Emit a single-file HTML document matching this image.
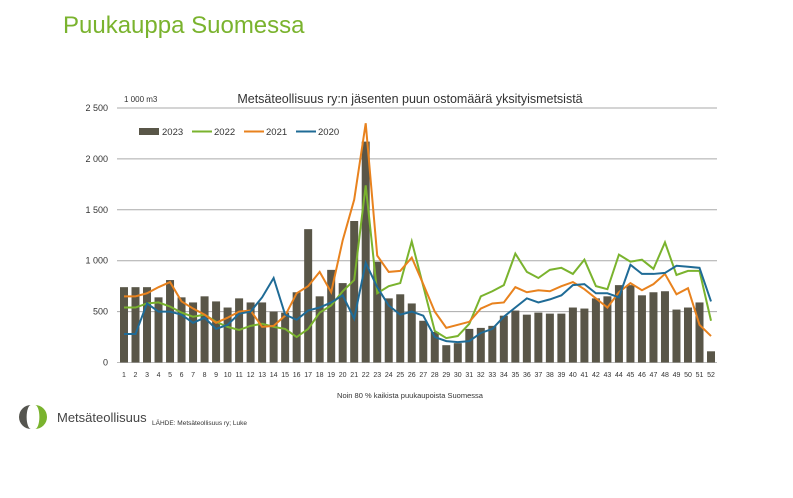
<!DOCTYPE html>
<html><head><meta charset="utf-8"><style>
body{margin:0;background:#fff;width:793px;height:493px;overflow:hidden;font-family:"Liberation Sans",sans-serif}
</style></head><body>
<svg id="s" width="793" height="493" xmlns="http://www.w3.org/2000/svg" font-family="Liberation Sans, sans-serif">
<text x="63" y="33" font-size="24" fill="#7ab32e">Puukauppa Suomessa</text>
<text x="410" y="103" font-size="12.5" fill="#333" text-anchor="middle">Metsäteollisuus ry:n jäsenten puun ostomäärä yksityismetsistä</text>
<text x="124" y="102" font-size="8" fill="#333">1 000 m3</text>
<text x="410" y="398" font-size="7.5" fill="#333" text-anchor="middle">Noin 80 % kaikista puukaupoista Suomessa</text>
<text x="152" y="425" font-size="6.5" fill="#333">LÄHDE:  Metsäteollisuus ry; Luke</text>
<path d="M31 405 A12 12 0 0 0 31 429 A4 11 0 0 1 31 405 Z" fill="#55554f"/>
<path d="M35 405 A12 12 0 0 1 35 429 A4 11 0 0 0 35 405 Z" fill="#7ab32e"/>
<text x="57" y="422" font-size="13" fill="#444">Metsäteollisuus</text>
<g id="g"></g>
</svg>
<script>
var b=[740,740,740,640,810,640,590,650,600,540,630,590,590,500,490,690,1310,650,910,780,1390,2170,990,630,670,580,410,300,170,190,330,340,360,460,510,470,490,480,480,540,530,630,650,760,760,660,690,700,520,540,590,110];
var g2=[540,540,580,590,550,490,450,470,400,350,320,360,380,350,330,250,330,490,560,700,810,1740,680,750,780,1190,750,310,240,260,380,650,700,760,1070,890,830,910,930,870,1010,750,720,1060,990,1010,920,1180,860,900,900,410];
var o=[650,650,680,740,790,600,530,470,390,440,500,510,350,360,460,680,750,890,690,1200,1600,2350,1050,890,900,1030,770,500,340,370,400,530,580,590,740,690,710,700,750,790,720,630,540,690,780,710,770,870,670,730,370,260];
var bl=[280,280,580,500,500,470,390,440,330,370,480,500,640,830,470,420,510,540,590,660,430,980,740,560,470,500,460,250,210,200,210,290,330,450,540,630,590,620,660,760,770,680,680,640,960,870,870,880,950,940,930,600];
function Y(v){return 362.5-v*0.1018}function X(i){return 124+i*11.51}
var h='';
for(var k=0;k<=5;k++){var y=Y(k*500);h+='<line x1="117" x2="717" y1="'+y+'" y2="'+y+'" stroke="'+(k?'#aaa':'#bbb')+'" stroke-width="1"/>';
h+='<text x="108" y="'+(y+3)+'" font-size="9" fill="#333" text-anchor="end">'+(k==0?'0':(k*500>=1000?(Math.floor(k*500/1000)+' '+String(k*500%1000).padStart(3,'0')):k*500))+'</text>';}
for(var i=0;i<52;i++){h+='<rect x="'+(X(i)-4)+'" y="'+Y(b[i])+'" width="8" height="'+(b[i]*0.1018)+'" fill="#595648"/>';
h+='<text x="'+X(i)+'" y="377" font-size="7" fill="#333" text-anchor="middle">'+(i+1)+'</text>';}
function L(d,c){var p=d.map(function(v,i){return X(i)+','+Y(v)}).join(' ');h+='<polyline points="'+p+'" fill="none" stroke="'+c+'" stroke-width="2"/>';}
L(g2,'#7ab32e');L(o,'#e8821e');L(bl,'#1f6b96');
h+='<rect x="139" y="128" width="20" height="7" fill="#595648"/><text x="162" y="135" font-size="9.5" fill="#333">2023</text>';
h+='<line x1="192" x2="212" y1="131.5" y2="131.5" stroke="#7ab32e" stroke-width="2"/><text x="214" y="135" font-size="9.5" fill="#333">2022</text>';
h+='<line x1="244" x2="264" y1="131.5" y2="131.5" stroke="#e8821e" stroke-width="2"/><text x="266" y="135" font-size="9.5" fill="#333">2021</text>';
h+='<line x1="296" x2="316" y1="131.5" y2="131.5" stroke="#1f6b96" stroke-width="2"/><text x="318" y="135" font-size="9.5" fill="#333">2020</text>';
document.getElementById('g').innerHTML=h;
</script>
</body></html>
